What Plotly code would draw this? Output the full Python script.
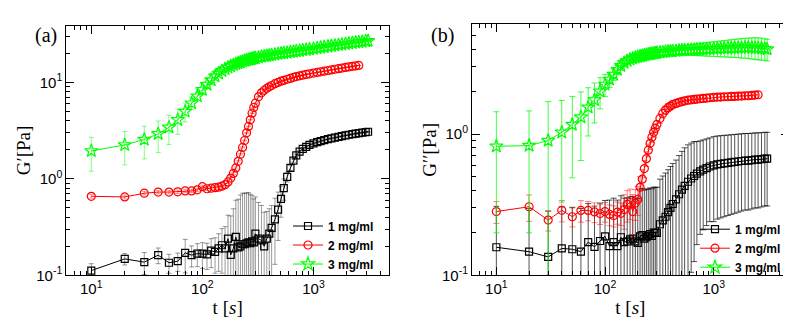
import plotly.graph_objects as go
from plotly.subplots import make_subplots

# time [s]
T = [10, 20, 30, 40, 50, 60, 70, 80, 90, 100, 110, 120, 130, 140, 150, 160, 170, 180, 190, 200,
     210, 220, 230, 240, 250, 260, 270, 280, 290, 300, 320, 340, 360, 380, 400, 420, 450, 480, 510, 540,
     580, 620, 660, 700, 750, 800, 860, 920, 1000, 1080, 1160, 1250, 1350, 1450, 1560, 1680, 1800, 1940,
     2080, 2240, 2400, 2560, 2750, 2950, 3100]

# (a) G' [Pa]
G1_A = [0.112, 0.148, 0.137, 0.162, 0.135, 0.140, 0.171, 0.162, 0.168, 0.168, 0.165, 0.180, 0.175, 0.190,
        0.205, 0.190, 0.240, 0.163, 0.190, 0.250, 0.195, 0.200, 0.210, 0.210, 0.215, 0.220, 0.215, 0.225,
        0.220, 0.270, 0.240, 0.230, 0.200, 0.240, 0.270, 0.310, 0.380, 0.480, 0.620, 0.800, 1.05, 1.30,
        1.55, 1.75, 1.92, 2.05, 2.15, 2.25, 2.33, 2.40, 2.46, 2.52, 2.58, 2.63, 2.68, 2.73, 2.78, 2.83,
        2.87, 2.91, 2.95, 2.98, 3.02, 3.06, 3.08]
E1_A = [0.02, 0.02, 0.035, 0.03, 0.03, 0.03, 0.065, 0.04, 0.045, 0.05, 0.05, 0.06, 0.07, 0.08, 0.10,
        0.13, 0.18, 0.25, 0.30, 0.35, 0.42, 0.48, 0.50, 0.50, 0.50, 0.50, 0.48, 0.45, 0.40, 0.38, 0.33,
        0.30, 0.25, 0.22, 0.22, 0.22, 0.25, 0.25, 0.22, 0.20, 0.12, 0.08, 0.06, 0.05, 0.05, 0.05, 0.05,
        0.05, 0.05, 0.05, 0.05, 0.05, 0.05, 0.05, 0.05, 0.05, 0.05, 0.05, 0.05, 0.05, 0.05, 0.05, 0.05,
        0.05, 0.05]
G2_A = [0.66, 0.65, 0.71, 0.73, 0.73, 0.735, 0.75, 0.75, 0.77, 0.83, 0.79, 0.80, 0.81, 0.82, 0.84, 0.87,
        0.93, 1.02, 1.14, 1.30, 1.52, 1.80, 2.12, 2.50, 3.0, 3.5, 4.1, 4.8, 5.5, 6.1, 7.1, 7.8, 8.3, 8.7,
        9.0, 9.3, 9.7, 10.0, 10.3, 10.5, 10.8, 11.0, 11.3, 11.5, 11.7, 11.9, 12.1, 12.3, 12.5, 12.7, 12.9,
        13.1, 13.3, 13.5, 13.7, 13.9, 14.1, 14.3, 14.5, 14.7, 14.85, 15.0]
E2_A = [0.03] * 62
G3_A = [1.95, 2.25, 2.56, 2.93, 3.42, 4.1, 5.0, 6.1, 7.2, 8.4, 9.5, 10.6, 11.6, 12.4, 13.2, 13.8, 14.3,
        14.8, 15.2, 15.6, 15.9, 16.2, 16.5, 16.8, 17.0, 17.2, 17.4, 17.6, 17.8, 17.9, 18.2, 18.5, 18.7,
        18.9, 19.1, 19.3, 19.5, 19.8, 20.0, 20.2, 20.4, 20.7, 20.9, 21.1, 21.3, 21.6, 21.8, 22.1, 22.4,
        22.7, 23.0, 23.3, 23.6, 23.9, 24.2, 24.5, 24.8, 25.1, 25.4, 25.7, 26.0, 26.2, 26.5, 26.8, 27.0]
E3_A = [0.75, 0.85, 0.95, 1.05, 1.15, 1.2, 1.1, 0.9, 0.7, 0.6] + [0.5] * 55

# (b) G'' [Pa]
G1_B = [0.158, 0.147, 0.135, 0.155, 0.153, 0.147, 0.172, 0.159, 0.175, 0.189, 0.161, 0.172, 0.161, 0.186,
        0.172, 0.174, 0.180, 0.182, 0.174, 0.170, 0.189, 0.193, 0.182, 0.186, 0.190, 0.196, 0.190, 0.201,
        0.200, 0.200, 0.230, 0.245, 0.260, 0.280, 0.300, 0.320, 0.345, 0.375, 0.405, 0.430, 0.460, 0.485,
        0.505, 0.525, 0.545, 0.560, 0.575, 0.590, 0.600, 0.610, 0.615, 0.620, 0.625, 0.630, 0.635, 0.640,
        0.645, 0.650, 0.650, 0.655, 0.660, 0.660, 0.665, 0.670, 0.670]
E1_B = [0.15, 0.15, 0.15, 0.15, 0.15, 0.15, 0.15, 0.15, 0.15, 0.15, 0.18, 0.18, 0.18, 0.18, 0.18, 0.18,
        0.18, 0.18, 0.18, 0.18, 0.22, 0.22, 0.22, 0.22, 0.22, 0.22, 0.22, 0.22, 0.22, 0.22, 0.25, 0.26,
        0.27, 0.28, 0.29, 0.30, 0.31, 0.33, 0.35, 0.37, 0.38, 0.38, 0.38, 0.36, 0.35, 0.35, 0.35, 0.35,
        0.36, 0.36, 0.36, 0.36, 0.36, 0.36, 0.36, 0.36, 0.36, 0.36, 0.36, 0.36, 0.36, 0.36, 0.36, 0.36,
        0.36]
G2_B = [0.283, 0.306, 0.246, 0.289, 0.260, 0.288, 0.288, 0.281, 0.274, 0.283, 0.270, 0.265, 0.280, 0.275,
        0.292, 0.318, 0.328, 0.283, 0.325, 0.345, 0.42, 0.48, 0.57, 0.67, 0.77, 0.86, 0.95, 1.03, 1.10,
        1.17, 1.29, 1.40, 1.48, 1.54, 1.58, 1.62, 1.65, 1.68, 1.70, 1.72, 1.74, 1.75, 1.76, 1.77, 1.78,
        1.79, 1.80, 1.81, 1.82, 1.83, 1.83, 1.84, 1.84, 1.85, 1.85, 1.86, 1.86, 1.87, 1.87, 1.88, 1.89,
        1.90]
E2_B = [0.05, 0.065, 0.04, 0.05, 0.04, 0.05, 0.045, 0.045, 0.045, 0.045, 0.045, 0.045, 0.05, 0.05, 0.08,
        0.08, 0.08, 0.09, 0.08, 0.08, 0.08, 0.08, 0.08, 0.08, 0.08, 0.08, 0.08, 0.08, 0.08, 0.08] + [0.1] * 32
G3_B = [0.82, 0.83, 0.90, 1.03, 1.17, 1.32, 1.55, 1.75, 2.01, 2.25, 2.44, 2.64, 2.86, 3.05, 3.21, 3.31,
        3.38, 3.44, 3.49, 3.53, 3.56, 3.59, 3.62, 3.65, 3.67, 3.69, 3.71, 3.73, 3.75, 3.77, 3.79, 3.81,
        3.83, 3.85, 3.86, 3.87, 3.89, 3.91, 3.93, 3.94, 3.95, 3.96, 3.97, 3.98, 3.99, 4.00, 4.01, 4.02,
        4.03, 4.04, 4.05, 4.06, 4.07, 4.08, 4.09, 4.10, 4.10, 4.11, 4.11, 4.10, 4.09, 4.08, 4.06, 4.03,
        4.00]
E3_B = [0.62, 0.63, 0.8, 0.7, 0.68, 0.67, 0.58, 0.55, 0.5, 0.4, 0.3, 0.25, 0.2, 0.2, 0.15, 0.15, 0.15,
        0.15, 0.15, 0.15, 0.15, 0.15, 0.15, 0.15, 0.15, 0.15, 0.15, 0.15, 0.15, 0.15, 0.17, 0.18, 0.19,
        0.2, 0.21, 0.22, 0.24, 0.26, 0.28, 0.3, 0.32, 0.34, 0.36, 0.38, 0.4, 0.42, 0.44, 0.46, 0.48, 0.5,
        0.52, 0.54, 0.56, 0.58, 0.6, 0.62, 0.64, 0.66, 0.68, 0.7, 0.72, 0.72, 0.72, 0.7, 0.7]

NAMES = ["1 mg/ml", "2 mg/ml", "3 mg/ml"]

SERIF = "Liberation Serif"
SANS = "Liberation Sans"
GREEN = "#00ff00"

fig = make_subplots(rows=1, cols=2)


def add(col, y, err, i, color, symbol, size, ecolor, legend, ewidth=2.5):
    fig.add_trace(go.Scatter(
        x=T[:len(y)], y=y, mode="lines+markers", name=NAMES[i],
        line=dict(color=color, width=1),
        marker=dict(symbol=symbol, size=size, color=color, line=dict(width=1.2, color=color)),
        error_y=dict(type="data", array=err, color=ecolor, thickness=1, width=ewidth),
        legend=legend), row=1, col=col)


add(1, G1_A, E1_A, 0, "black", "square-open", 7, "rgba(0,0,0,0.4)", "legend")
add(1, G2_A, E2_A, 1, "#ff0000", "circle-open", 8, "rgba(255,0,0,0.4)", "legend")
add(1, G3_A, E3_A, 2, GREEN, "star-open", 10, "rgba(0,255,0,0.5)", "legend")
add(2, G1_B, E1_B, 0, "black", "square-open", 7, "rgba(0,0,0,0.68)", "legend2", 3)
add(2, G2_B, E2_B, 1, "#ff0000", "circle-open", 8, "rgba(255,0,0,0.5)", "legend2", 3)
add(2, G3_B, E3_B, 2, GREEN, "star-open", 10, "rgba(0,255,0,0.75)", "legend2", 3)

minor_x = [m * 10 ** k for k in range(0, 4) for m in range(2, 10)]
minor_y = [m * 10 ** k for k in range(-1, 2) for m in range(2, 10)]

common = dict(type="log", showline=True, linecolor="black", linewidth=1, mirror="ticks",
              ticks="inside", ticklen=8, tickcolor="black", showgrid=False, zeroline=False,
              tickfont=dict(family=SANS, size=15, color="black"))
fig.update_xaxes(**common, tickmode="array", tickvals=[10, 100, 1000],
                 ticktext=["10<sup>1</sup>", "10<sup>2</sup>", "10<sup>3</sup>"],
                 minor=dict(ticks="inside", ticklen=4, tickcolor="black", tickvals=minor_x),
                 range=[0.775, 3.68],
                 title=dict(text="t [<i>s</i>]", font=dict(family=SERIF, size=19), standoff=0))
fig.update_yaxes(**common, tickmode="array", tickvals=[0.1, 1, 10],
                 ticktext=["10<sup>-1</sup>", "10<sup>0</sup>", "10<sup>1</sup>"],
                 minor=dict(ticks="inside", ticklen=4, tickcolor="black", tickvals=minor_y),
                 title=dict(font=dict(family=SERIF, size=19), standoff=0))

fig.update_layout(
    width=791, height=327, margin=dict(l=0, r=0, t=0, b=0),
    paper_bgcolor="white", plot_bgcolor="white",
    font=dict(family=SANS, color="black"),
    xaxis=dict(domain=[0.0737, 0.4817]),
    xaxis2=dict(domain=[0.5866, 0.987], range=[0.776, 3.69]),
    yaxis=dict(domain=[0.162, 0.945], range=[-1, 1.59], title_text="G′[Pa]"),
    yaxis2=dict(domain=[0.162, 0.949], range=[-1, 0.778], title_text="G′′[Pa]"),
    legend=dict(x=0.354, y=0.362, xanchor="left", yanchor="top", bgcolor="rgba(0,0,0,0)",
                font=dict(family=SANS, size=12, weight="bold")),
    legend2=dict(x=0.8685, y=0.352, xanchor="left", yanchor="top", bgcolor="rgba(0,0,0,0)",
                 font=dict(family=SANS, size=12, weight="bold")),
    annotations=[
        dict(text="(a)", x=25 / 791, y=1 - 14 / 327, xref="paper", yref="paper", showarrow=False,
             font=dict(family=SERIF, size=20)),
        dict(text="(b)", x=434 / 791, y=1 - 14 / 327, xref="paper", yref="paper", showarrow=False,
             font=dict(family=SERIF, size=20)),
    ],
)

fig.write_html("out.html")
